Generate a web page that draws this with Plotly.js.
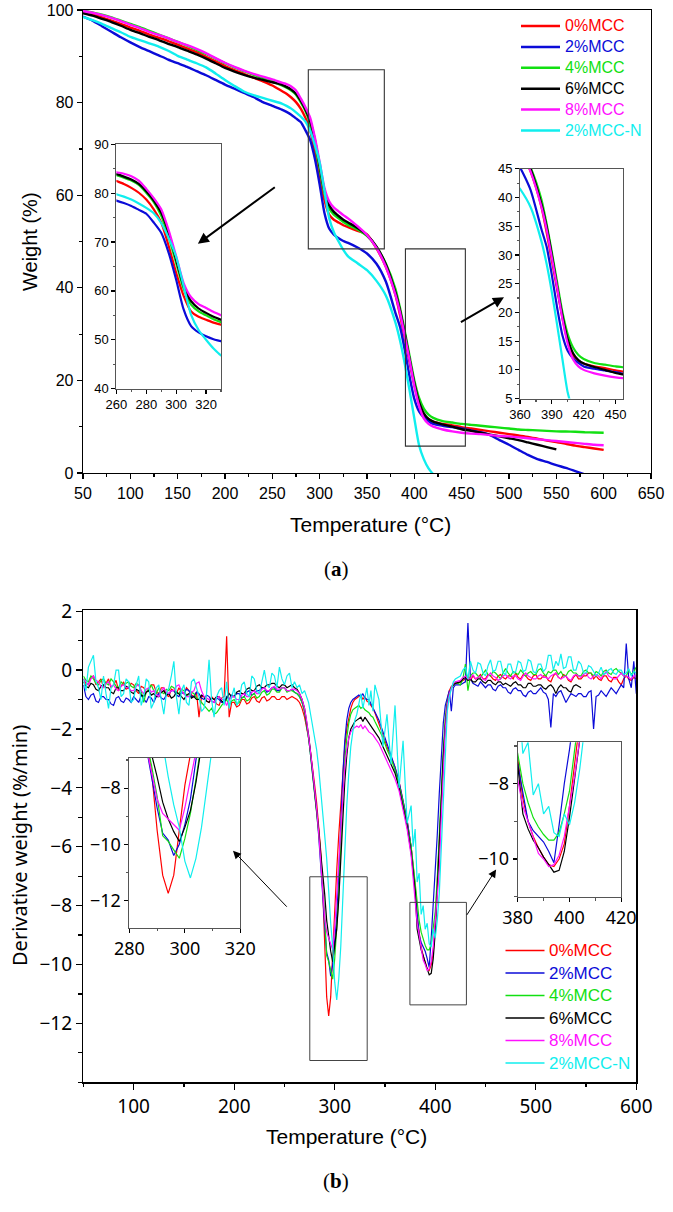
<!DOCTYPE html>
<html><head><meta charset="utf-8">
<script src="https://cdn.plot.ly/plotly-3.0.1.min.js"></script>
<style>html,body{margin:0;padding:0;background:#fff}</style>
</head><body><div id="chart" style="width:673px;height:1212px"></div>
<script>
// ---------- series meta ----------
const seriesNames = ['0%MCC','2%MCC','4%MCC','6%MCC','8%MCC','2%MCC-N'];
const seriesColors = ['#ff0000','#0b0bd8','#12e012','#000000','#ff10ff','#10eeee'];

// ---------- (a) TG data: temperature (°C) vs weight (%) ----------
const tgTemp = [50,60,70,80,90,100,110,120,130,140,150,160,170,180,190,200,210,220,230,240,250,
  260,265,270,275,280,285,290,295,300,305,310,315,320,325,330,
  340,350,360,370,380,
  385,390,395,400,405,410,415,420,
  430,440,450,460,470,480,490,500,510,520,530,540,550,560,570,580,590,600];
const tg0 = [99.5,99.0,98.4,97.7,97.0,96.2,95.5,94.7,94.0,93.3,92.5,91.7,90.9,89.9,88.9,87.9,87.0,86.2,85.4,84.6,83.7,
  82.5,81.9,81.1,80.1,78.7,76.7,74.0,69.2,63.7,59.0,55.8,54.7,54.1,53.5,53.1,
  52.3,51.5,48.5,44.5,38.5,
  34.0,29.0,24.0,19.0,15.0,12.6,11.6,11.1,
  10.6,10.3,9.9,9.6,9.3,9.0,8.7,8.4,8.1,7.8,7.4,7.0,6.7,6.3,5.9,5.6,5.3,5.0];
const tg2 = [98.6,97.7,96.5,95.3,94.1,93.0,92.0,91.1,90.2,89.3,88.5,87.7,86.8,85.9,84.9,83.9,83.0,82.1,81.2,80.1,79.3,
  78.5,78.0,77.4,76.6,75.8,74.0,71.9,67.8,62.3,56.2,52.8,51.5,50.7,50.1,49.7,
  48.7,47.4,45.2,41.3,34.6,
  31.5,26.5,20.8,16.0,13.3,12.0,11.2,10.6,
  10.2,9.9,9.6,9.2,8.8,8.2,7.1,6.1,5.0,3.9,3.0,2.4,1.7,1.1,0.4,-0.3,null,null];
const tg4 = [99.8,99.5,99.0,98.4,97.7,97.0,96.3,95.5,94.7,93.9,93.1,92.3,91.4,90.5,89.5,88.5,87.6,86.8,86.0,85.3,84.6,
  83.7,83.2,82.6,81.7,80.1,78.2,75.4,71.0,65.7,60.4,57.2,55.8,55.0,54.2,53.6,
  52.6,51.2,48.8,45.2,39.8,
  35.5,30.5,25.2,20.0,16.2,13.9,12.6,11.9,
  11.2,10.9,10.6,10.4,10.2,10.0,9.8,9.6,9.4,9.3,9.2,9.1,9.0,8.95,8.9,8.8,8.75,8.7];
const tg6 = [99.3,98.8,98.1,97.4,96.6,95.7,95.0,94.2,93.5,92.7,92.0,91.2,90.4,89.5,88.5,87.5,86.7,86.0,85.4,84.9,84.4,
  83.9,83.4,82.8,81.9,80.4,78.5,76.0,71.9,66.4,61.0,57.9,56.4,55.5,54.7,54.1,
  52.9,51.4,48.9,45.0,39.0,
  35.0,30.0,24.5,19.4,15.3,12.9,11.7,11.1,
  10.5,10.0,9.45,9.1,8.7,8.3,7.9,7.5,7.1,6.6,6.1,5.6,5.1,null,null,null,null,null];
const tg8 = [99.8,99.4,98.9,98.3,97.6,96.8,96.1,95.3,94.6,93.9,93.1,92.4,91.6,90.7,89.6,88.6,87.7,86.9,86.2,85.6,85.0,
  84.3,84.0,83.5,82.6,80.9,79.0,76.7,72.4,67.1,61.6,58.7,57.3,56.5,55.7,55.0,
  53.3,51.4,48.6,44.5,38.5,
  34.5,29.5,24.3,18.8,14.5,11.8,10.6,10.0,
  9.4,9.0,8.7,8.5,8.4,8.2,8.0,7.9,7.7,7.5,7.3,7.1,6.9,6.7,6.5,6.3,6.1,6.0];
const tg2N = [98.5,97.8,97.0,96.1,95.2,94.2,93.5,92.8,92.1,91.2,90.1,89.3,88.5,87.6,86.3,84.9,83.6,82.4,81.6,81.0,80.4,
  79.8,79.3,78.7,77.9,77.0,75.9,73.9,70.8,67.0,61.0,55.1,52.0,50.0,48.2,46.8,
  45.3,43.8,41.5,38.3,32.5,
  28.5,23.5,17.8,11.8,6.0,3.0,1.0,-0.3,
  null,null,null,null,null,null,null,null,null,null,null,null,null,null,null,null,null,null];

// ---------- (b) DTG data: temperature (°C) vs derivative weight (%/min) ----------
const dtgTemp = [
  50,52.5,55,57.5,60,62.5,65,67.5,70,72.5, 75,77.5,80,82.5,85,87.5,90,92.5,95,97.5,
  100,102.5,105,107.5,110,112.5,115,117.5,120,122.5, 125,127.5,130,132.5,135,137.5,140,142.5,145,147.5,
  150,152.5,155,157.5,160,162.5,165,167.5,170,172.5, 175,177.5,180,182.5,185,187.5,190,192.5,195,197.5,
  200,202.5,205,207.5,210,212.5,215,217.5,220,222.5, 225,227.5,230,232.5,235,237.5,240,242.5,245,247.5,
  250,252.5,255,257.5,260,262.5,265,267.5,270,
  272,274,276,278,280,282,284,286,288,290,292,294,296,298,300,302,304,306,308,310,
  312,314,316,318,320,322,324,326,328,330,332,334,336,338,340,
  344,348,352,356,360,364,368,372,376,
  378,380,382,384,386,388,390,392,394,396,398,400,402,404,406,408,410,412,414,416,418,420,
  425,427.5,430,432.5,435,437.5,440,442.5,445,447.5, 450,452.5,455,457.5,460,462.5,465,467.5,470,472.5,
  475,477.5,480,482.5,485,487.5,490,492.5,495,497.5, 500,502.5,505,507.5,510,512.5,515,517.5,520,522.5,
  525,527.5,530,532.5,535,537.5,540,542.5,545,547.5, 550,552.5,555,557.5,560,562.5,565,567.5,570,572.5,
  575,577.5,580,582.5,585,587.5,590,592.5,595,597.5, 600];

const dtg0 = [
  -0.3,-0.45,-0.5,-0.25,-0.2,-0.5,-0.4,-0.3,-0.6,-0.45, -0.3,-0.6,-0.5,-0.35,-0.7,-0.55,-0.4,-0.65,-0.6,-0.45,
  -0.5,-0.7,-0.8,-0.55,-0.6,-0.75,-0.7,-0.5,-0.5,-0.75, -0.8,-0.6,-0.6,-0.85,-0.9,-0.65,-0.7,-0.8,-0.6,-0.75,
  -0.8,-0.6,-0.7,-0.85,-0.9,-0.75,-1.6,-0.9,-0.9,-1.05, -1.1,-0.9,-1.0,-1.15,-1.2,-0.95,-0.9,1.15,-1.6,-1.1,
  -1.1,-1.25,-1.2,-1.0,-1.0,-1.15,-1.1,-0.95,-0.9,-1.05, -1.1,-0.95,-0.9,-1.05,-1.0,-0.9,-0.9,-1.0,-1.0,-0.9,
  -0.9,-1.0,-0.95,-0.9,-0.95,-1.0,-1.1,-1.3,-1.6,
  -1.9,-2.3,-2.8,-3.3,-3.9,-4.5,-5.2,-6.1,-7.4,-9.5,-11.1,-11.75,-11.1,-9.6,-7.9,-6.8,-5.6,-4.5,-3.5,-2.6,
  -2.0,-1.6,-1.3,-1.1,-1.0,-0.95,-0.9,-0.85,-1.0,-0.9,-1.05,-1.1,-1.2,-1.3,-1.45,
  -1.8,-2.2,-2.6,-2.95,-3.3,-3.8,-4.4,-5.1,-6.0,
  -6.6,-7.3,-8.4,-9.0,-9.4,-9.7,-9.95,-10.15,-10.2,-10.0,-9.6,-8.6,-7.2,-5.8,-4.2,-2.8,-1.7,-1.0,-0.7,-0.55,-0.5,-0.45,
  -0.4,-0.35,-0.3,-0.2,-0.35,-0.2,-0.3,-0.25,-0.15,-0.3, -0.3,-0.15,-0.2,-0.3,-0.35,-0.2,-0.15,-0.25,-0.3,-0.2,
  -0.2,-0.3,-0.1,-0.25,-0.3,-0.15,-0.2,-0.3,-0.35,-0.2, -0.15,-0.3,-0.3,-0.2,-0.2,-0.35,-0.4,-0.2,-0.1,-0.25,
  -0.3,-0.15,-0.2,-0.35,-0.4,-0.25,-0.15,-0.3,-0.3,-0.2, -0.2,-0.1,-0.1,-0.3,-0.2,-0.3,-0.35,-0.2,-0.2,-0.35,
  -0.4,-0.25,-0.25,-0.4,-0.5,-0.3,-0.2,-0.3,-0.35,-0.25, -0.3];
const dtg2 = [
  -0.5,-0.9,-1.0,-0.85,-0.8,-1.05,-1.1,-0.9,-0.9,-1.0, -1.0,-1.15,-1.2,-0.95,-0.9,-1.05,-1.1,-0.95,-1.0,-1.1,
  -0.9,-1.0,-1.1,-0.85,-1.0,-1.1,-0.9,-0.95,-1.1,-0.9, -0.8,-0.95,-1.0,-0.85,-0.8,-0.7,-0.7,-0.85,-0.9,-0.75,
  -0.8,-0.65,-0.7,-0.9,-0.9,-0.75,-0.8,-0.95,-1.0,-0.85, -0.9,-1.05,-1.1,-0.95,-1.0,-1.1,-1.1,-0.9,-1.0,-0.85,
  -0.9,-0.8,-0.8,-0.95,-0.9,-0.75,-0.7,-0.85,-0.8,-0.7, -0.7,-0.6,-0.6,-0.75,-0.7,-0.6,-0.6,-0.7,-0.7,-0.6,
  -0.6,-0.7,-0.7,-0.65,-0.75,-0.8,-0.9,-1.1,-1.4,
  -1.8,-2.3,-2.9,-3.5,-4.1,-4.8,-5.6,-6.5,-7.6,-8.7,-9.6,-9.85,-10.4,-10.0,-9.3,-8.4,-7.0,-5.2,-3.6,-2.4,
  -1.7,-1.3,-1.1,-1.0,-0.95,-0.9,-0.85,-0.9,-0.8,-0.95,-1.0,-1.0,-1.15,-1.25,-1.4,
  -1.7,-2.1,-2.5,-2.9,-3.3,-3.8,-4.4,-5.1,-6.0,
  -6.7,-7.5,-8.3,-9.0,-9.25,-9.4,-9.55,-9.8,-10.1,-9.1,-8.0,-7.1,-5.6,-4.2,-2.9,-1.8,-1.2,-0.9,-0.7,-1.4,-0.6,-0.5,
  -0.5,-0.45,-0.4,1.6,-0.3,-0.45,-0.5,-0.55,-0.4,-0.5, -0.6,-0.5,-0.5,-0.65,-0.7,-0.55,-0.5,-0.6,-0.6,-0.75,
  -0.8,-0.65,-0.6,-0.7,-0.7,-0.85,-0.9,-0.75,-0.7,-0.8, -0.8,-0.7,-0.6,-0.75,-0.8,-1.0,-1.95,-0.8,-0.9,-0.75,
  -0.7,-0.9,-1.1,-0.95,-0.8,-0.85,-0.9,-0.8,-0.8,-0.9, -0.9,-0.75,-0.7,-2.0,-0.9,-0.85,-0.7,-0.8,-0.9,-0.75,
  -0.6,-0.7,-0.8,-0.65,-0.5,-0.6,0.9,-0.3,-0.6,0.3, -0.8];
const dtg4 = [
  -0.2,-0.35,-0.4,-0.2,-0.3,-0.45,-0.5,-0.35,-0.3,-0.45, -0.5,-0.3,-0.4,-0.55,-0.6,-0.4,-0.5,-0.45,-0.4,-0.55,
  -0.6,-0.45,-0.5,-0.7,-1.1,-0.75,-0.6,-0.5,-0.7,-0.8, -0.6,-0.75,-0.8,-0.65,-0.7,-0.55,-0.6,-0.8,-0.8,-0.65,
  -0.7,-0.85,-0.9,-0.75,-0.8,-0.95,-1.0,-1.1,-1.2,-1.3, -1.4,-1.3,-1.5,-1.45,-1.3,-1.2,-1.1,-1.0,-1.2,-1.05,
  -1.0,-1.15,-1.1,-0.95,-0.9,-1.05,-1.0,-0.85,-0.8,-0.95, -0.9,-0.75,-0.7,-0.85,-0.8,-0.65,-0.65,-0.75,-0.75,-0.6,
  -0.6,-0.75,-0.7,-0.7,-0.75,-0.8,-0.9,-1.1,-1.4,
  -1.8,-2.3,-2.9,-3.5,-4.1,-4.8,-5.5,-6.3,-7.2,-8.3,-9.7,-9.9,-10.2,-10.5,-9.8,-8.9,-7.7,-6.0,-4.4,-3.1,
  -2.3,-1.8,-1.5,-1.35,-1.3,-1.25,-1.2,-1.3,-1.25,-1.35,-1.4,-1.45,-1.55,-1.6,-1.75,
  -2.0,-2.3,-2.7,-3.0,-3.4,-3.9,-4.5,-5.2,-6.0,
  -6.6,-7.2,-8.0,-8.5,-8.9,-9.15,-9.35,-9.5,-9.5,-9.3,-8.8,-8.2,-7.1,-5.6,-4.1,-2.7,-1.7,-1.1,-0.8,-0.6,-0.5,-0.4,
  -0.5,-0.3,0.2,-0.7,-0.2,-0.1,-0.1,-0.2,-0.25,-0.1, 0.0,-0.15,-0.2,-0.05,-0.1,-0.2,-0.3,-0.1,0.05,-0.1,
  -0.2,-0.05,-0.1,-0.15,0.0,-0.1,-0.2,-0.1,-0.05,-0.15, -0.15,0.0,0.05,-0.1,-0.2,-0.05,-0.1,0.0,0.0,-0.15,
  -0.05,-0.2,-0.2,-0.05,0.0,-0.1,-0.1,-0.2,-0.2,-0.05, 0.0,-0.1,-0.1,-0.2,-0.05,-0.1,-0.2,-0.05,0.0,-0.1,
  -0.15,0.0,0.05,-0.05,-0.1,-0.2,-0.2,0.0,-0.15,-0.05, 0.1];
const dtg6 = [
  -0.4,-0.55,-0.6,-0.45,-0.5,-0.65,-0.7,-0.55,-0.5,-0.6, -0.6,-0.75,-0.8,-0.6,-0.6,-0.7,-0.7,-0.55,-0.6,-0.75,
  -0.8,-0.65,-0.7,-0.85,-0.9,-0.75,-0.7,-0.85,-0.8,-0.9, -0.9,-0.75,-0.7,-0.85,-0.8,-0.95,-0.9,-0.75,-0.8,-0.9,
  -1.0,-0.85,-0.8,-0.95,-0.9,-1.0,-1.0,-0.85,-0.9,-1.05, -1.1,-0.95,-1.0,-0.9,-0.9,-1.05,-1.1,-0.95,-0.8,-0.9,
  -0.9,-0.75,-0.7,-0.8,-0.8,-0.65,-0.6,-0.7,-0.7,-0.55, -0.5,-0.6,-0.6,-0.5,-0.5,-0.45,-0.45,-0.55,-0.6,-0.5,
  -0.5,-0.6,-0.55,-0.5,-0.6,-0.65,-0.8,-1.0,-1.3,
  -1.7,-2.2,-2.8,-3.4,-4.0,-4.7,-5.4,-6.2,-6.8,-7.6,-8.5,-9.1,-9.55,-9.9,-9.4,-8.8,-7.8,-6.5,-5.0,-3.8,
  -2.9,-2.3,-2.0,-1.85,-1.75,-1.7,-1.65,-1.6,-1.75,-1.6,-1.7,-1.8,-1.9,-2.0,-2.1,
  -2.3,-2.6,-2.9,-3.2,-3.5,-4.0,-4.6,-5.3,-6.2,
  -6.8,-7.5,-8.8,-9.2,-9.5,-9.7,-9.95,-10.15,-10.35,-10.3,-9.8,-8.9,-7.5,-5.9,-4.3,-2.9,-1.9,-1.2,-0.8,-0.6,-0.5,-0.45,
  -0.4,-0.3,-0.25,-0.35,-0.3,-0.4,-0.4,-0.3,-0.3,-0.4, -0.45,-0.35,-0.35,-0.45,-0.5,-0.4,-0.4,-0.5,-0.45,-0.5,
  -0.55,-0.45,-0.4,-0.5,-0.5,-0.6,-0.6,-0.45,-0.45,-0.55, -0.55,-0.5,-0.5,-0.6,-0.65,-0.55,-0.5,-0.6,-0.8,-0.6,
  -0.5,-0.6,-0.6,-0.7,-0.75,-0.55,-0.5,-0.55,-0.6,null, null,null,null,null,null,null,null,null,null,null,
  null,null,null,null,null,null,null,null,null,null, null];
const dtg8 = [
  -0.3,-0.4,-0.5,-0.3,-0.2,-0.35,-0.4,-0.55,-0.6,-0.45, -0.4,-0.55,-0.5,-0.65,-0.7,-0.55,-0.5,-0.6,-0.6,-0.7,
  -0.7,-0.55,-0.5,-0.7,-0.8,-0.65,-0.6,-0.75,-0.7,-0.85, -0.9,-0.7,-0.6,-0.75,-0.8,-0.7,-0.7,-0.55,-0.5,-0.7,
  -0.8,-0.9,-0.9,-0.75,-0.7,-0.45,-0.4,-0.7,-0.9,-0.95, -1.0,-1.05,-1.1,-0.95,-0.9,-1.0,-1.0,-1.2,-1.0,-0.9,
  -0.9,-1.0,-1.0,-0.85,-0.8,-0.9,-0.9,-0.75,-0.7,-0.8, -0.8,-0.65,-0.6,-0.7,-0.7,-0.6,-0.55,-0.65,-0.65,-0.6,
  -0.6,-0.7,-0.7,-0.65,-0.65,-0.7,-0.8,-1.0,-1.3,
  -1.7,-2.2,-2.8,-3.4,-4.0,-4.7,-5.5,-6.5,-7.4,-8.4,-8.9,-9.1,-9.3,-9.5,-8.7,-7.6,-6.5,-5.4,-4.2,-3.3,
  -2.7,-2.3,-2.1,-2.0,-1.95,-1.9,-1.95,-1.85,-2.0,-1.9,-2.0,-2.1,-2.15,-2.2,-2.3,
  -2.5,-2.8,-3.1,-3.4,-3.7,-4.1,-4.7,-5.4,-6.3,
  -7.0,-7.9,-8.6,-9.0,-9.4,-9.85,-10.0,-10.2,-10.15,-9.9,-9.4,-8.6,-7.8,-6.8,-5.0,-3.3,-2.0,-1.2,-0.8,-0.6,-0.45,-0.4,
  -0.35,-0.25,-0.2,-0.3,-0.3,-0.15,-0.3,-0.25,-0.2,-0.3, -0.35,-0.2,-0.1,-0.2,-0.25,-0.35,-0.3,-0.2,-0.15,-0.25,
  -0.3,-0.2,-0.2,-0.3,-0.35,-0.2,-0.1,-0.2,-0.25,-0.3, -0.3,-0.2,-0.15,-0.25,-0.25,-0.3,-0.2,-0.15,-0.1,-0.25,
  -0.3,-0.25,-0.2,-0.3,-0.35,-0.2,-0.15,-0.2,-0.25,-0.15, -0.1,-0.25,-0.3,-0.2,-0.15,-0.2,-0.3,-0.15,-0.05,-0.2,
  -0.25,-0.3,-0.3,-0.2,-0.1,-0.2,-0.2,-0.25,-0.3,-0.2, -0.2];
const dtg2N = [
  -0.3,-0.7,0.1,0.3,0.5,-0.4,-0.6,-1.0,-0.2,-0.8, -1.3,-0.6,-0.5,0.0,0.0,-0.9,-0.8,-0.3,-0.4,-1.1,
  -1.0,-0.5,-0.2,-1.2,-0.9,-0.3,-0.4,-1.3,-1.1,-0.6, -0.5,-1.0,-1.5,-0.8,-0.6,-0.2,0.3,-0.9,-1.5,-0.7,
  -0.5,-1.1,-1.2,-0.4,-0.3,-0.6,-0.9,-1.4,-1.3,-0.8, 0.35,-1.0,-1.6,-0.9,-0.7,-0.6,-1.2,-0.4,-1.3,-0.9,
  -0.6,-1.2,-1.0,-0.5,-0.4,-0.8,-0.9,-0.2,-0.3,-0.7, -0.8,-0.4,0.0,-0.5,-0.6,-0.1,-0.2,-0.6,0.1,-0.3,
  -0.5,-0.2,-0.1,-0.6,-0.4,-0.6,-0.5,-0.8,-0.7,
  -0.9,-1.1,-1.5,-1.9,-2.2,-2.7,-3.3,-4.0,-4.8,-5.6,-6.4,-7.6,-8.6,-9.4,-10.6,-11.2,-10.5,-9.4,-7.6,-6.0,
  -4.6,-3.5,-2.6,-2.1,-1.7,-1.5,-1.2,-0.8,-1.3,-1.0,-0.6,-1.2,-0.7,-1.4,-0.5,
  -1.0,-2.6,-1.5,-3.2,-1.2,-4.0,-2.4,-5.2,-4.6,
  -6.0,-5.4,-7.2,-6.9,-8.3,-8.0,-8.8,-8.6,-9.3,-9.4,-8.8,-9.1,-8.5,-7.6,-6.0,-4.2,-2.5,-1.4,-0.9,-0.6,-0.4,-0.3,
  -0.2,0.0,0.1,-0.3,0.3,0.0,-0.1,0.25,0.2,-0.1, -0.2,0.15,0.35,-0.05,0.0,0.3,0.3,-0.1,-0.15,0.2,
  0.2,-0.1,-0.05,0.3,0.25,-0.05,0.0,0.35,0.3,-0.05, -0.1,0.2,0.2,-0.05,0.05,0.5,0.5,0.0,0.3,0.15,
  0.55,0.05,0.1,0.45,0.45,0.0,0.0,0.3,0.2,-0.1, -0.1,0.15,0.1,-0.05,-0.2,-0.1,0.1,-0.15,-0.1,0.0,
  0.05,-0.1,-0.15,0.0,0.0,-0.15,-0.1,0.05,-0.2,-0.05, -0.1];

const tgSeries = [tg0, tg2, tg4, tg6, tg8, tg2N];
const dtgSeries = [dtg0, dtg2, dtg4, dtg6, dtg8, dtg2N];

// ---------- layout helpers ----------
const W = 673, H = 1212;
const px = v => v / W;
const py = v => 1 - v / H;
const ARIAL = 'Liberation Sans, Arial, sans-serif';
const NOTO = 'Noto Sans, Open Sans, sans-serif';
const SERIF = 'Liberation Serif, Times New Roman, serif';

const traces = [];
function addSet(xArr, ys, xa, ya, width, shape) {
  ys.forEach((y, i) => traces.push({
    type: 'scatter', mode: 'lines', x: xArr, y: y, xaxis: xa, yaxis: ya,
    line: {color: seriesColors[i], width: width, shape: shape, smoothing: 0.6},
    name: seriesNames[i], showlegend: false, hoverinfo: 'skip'
  }));
}
addSet(tgTemp, tgSeries, 'x', 'y', 2.4, 'spline');
addSet(tgTemp, tgSeries, 'x2', 'y2', 2.2, 'spline');
addSet(tgTemp, tgSeries, 'x3', 'y3', 2.2, 'spline');
addSet(dtgTemp, dtgSeries, 'x4', 'y4', 1.2, 'linear');
addSet(dtgTemp, dtgSeries, 'x5', 'y5', 1.2, 'linear');
addSet(dtgTemp, dtgSeries, 'x6', 'y6', 1.2, 'linear');

function ax(o) {
  return Object.assign({
    showgrid: false, zeroline: false, showline: true, mirror: true,
    ticks: 'outside', linecolor: '#000', tickcolor: '#000', linewidth: 1.3,
    tickwidth: 1.2, ticklen: 5, fixedrange: true
  }, o);
}

const layout = {
  width: W, height: H, margin: {l: 0, r: 0, t: 0, b: 0},
  paper_bgcolor: '#fff', plot_bgcolor: 'rgba(0,0,0,0)', showlegend: false,
  // (a) main
  xaxis: ax({domain: [px(83), px(651)], range: [50, 650], anchor: 'y', tickmode: 'linear', tick0: 50, dtick: 50,
    tickfont: {family: ARIAL, size: 16, color: '#000'},
    minor: {ticks: 'outside', ticklen: 3, tick0: 50, dtick: 25, tickcolor: '#000'}}),
  yaxis: ax({domain: [py(473), py(10)], range: [0, 100], anchor: 'x', tickmode: 'linear', tick0: 0, dtick: 20,
    tickfont: {family: ARIAL, size: 16, color: '#000'},
    minor: {ticks: 'outside', ticklen: 3, tick0: 0, dtick: 10, tickcolor: '#000'}}),
  // (a) inset left
  xaxis2: ax({domain: [px(116.4), px(221)], range: [260, 330], anchor: 'y2', tickmode: 'linear', tick0: 260, dtick: 20,
    linecolor: '#555', linewidth: 1, ticklen: 4, tickfont: {family: ARIAL, size: 13, color: '#000'},
    minor: {ticks: 'outside', ticklen: 2.5, tick0: 260, dtick: 10, tickcolor: '#555'}}),
  yaxis2: ax({domain: [py(388.6), py(144.4)], range: [40, 90], anchor: 'x2', tickmode: 'linear', tick0: 40, dtick: 10,
    linecolor: '#555', linewidth: 1, ticklen: 4, tickfont: {family: ARIAL, size: 13, color: '#000'},
    minor: {ticks: 'outside', ticklen: 2.5, tick0: 40, dtick: 5, tickcolor: '#555'}}),
  // (a) inset right
  xaxis3: ax({domain: [px(520), px(623)], range: [360, 457], anchor: 'y3', tickmode: 'linear', tick0: 360, dtick: 30,
    linecolor: '#555', linewidth: 1, ticklen: 4, tickfont: {family: ARIAL, size: 13, color: '#000'},
    minor: {ticks: 'outside', ticklen: 2.5, tick0: 360, dtick: 15, tickcolor: '#555'}}),
  yaxis3: ax({domain: [py(398.6), py(168.8)], range: [5, 45], anchor: 'x3', tickmode: 'linear', tick0: 5, dtick: 5,
    linecolor: '#555', linewidth: 1, ticklen: 4, tickfont: {family: ARIAL, size: 13, color: '#000'},
    minor: {ticks: 'outside', ticklen: 2.5, tick0: 5, dtick: 2.5, tickcolor: '#555'}}),
  // (b) main
  xaxis4: ax({domain: [px(83.4), px(636.3)], range: [50, 600], anchor: 'y4', tickmode: 'linear', tick0: 0, dtick: 100,
    linewidth: 1.5, ticklen: 6, tickfont: {family: NOTO, size: 19, color: '#000'},
    minor: {ticks: 'outside', ticklen: 3.5, tick0: 0, dtick: 50, tickcolor: '#000'}}),
  yaxis4: ax({domain: [py(1082.3), py(610.3)], range: [-14, 2.03], anchor: 'x4', tickmode: 'array',
    tickvals: [-12, -10, -8, -6, -4, -2, 0, 2], linewidth: 1.5, ticklen: 6,
    tickfont: {family: NOTO, size: 19, color: '#000'},
    minor: {ticks: 'outside', ticklen: 3.5, tick0: 0, dtick: 1, tickcolor: '#000'}}),
  // (b) inset left
  xaxis5: ax({domain: [px(129.4), px(240.3)], range: [280, 320], anchor: 'y5', tickmode: 'linear', tick0: 280, dtick: 20,
    linecolor: '#555', linewidth: 1, ticklen: 4, tickfont: {family: NOTO, size: 18, color: '#000'},
    minor: {ticks: 'outside', ticklen: 2.5, tick0: 280, dtick: 10, tickcolor: '#555'}}),
  yaxis5: ax({domain: [py(927.9), py(757.8)], range: [-12.98, -6.92], anchor: 'x5', tickmode: 'array',
    tickvals: [-12, -10, -8], linecolor: '#555', linewidth: 1, ticklen: 4,
    tickfont: {family: NOTO, size: 18, color: '#000'},
    minor: {ticks: 'outside', ticklen: 2.5, tick0: 0, dtick: 1, tickcolor: '#555'}}),
  // (b) inset right
  xaxis6: ax({domain: [px(517.7), px(621.2)], range: [380, 420], anchor: 'y6', tickmode: 'linear', tick0: 380, dtick: 20,
    linecolor: '#555', linewidth: 1, ticklen: 4, tickfont: {family: NOTO, size: 18, color: '#000'},
    minor: {ticks: 'outside', ticklen: 2.5, tick0: 380, dtick: 10, tickcolor: '#555'}}),
  yaxis6: ax({domain: [py(897.4), py(742.3)], range: [-11.02, -6.9], anchor: 'x6', tickmode: 'array',
    tickvals: [-10, -8], linecolor: '#555', linewidth: 1, ticklen: 4,
    tickfont: {family: NOTO, size: 18, color: '#000'},
    minor: {ticks: 'outside', ticklen: 2.5, tick0: 0, dtick: 1, tickcolor: '#555'}}),
  shapes: [
    // zoom boxes (a)
    {type: 'rect', xref: 'x', yref: 'y', x0: 288, x1: 368.3, y0: 48.4, y1: 87.1, line: {color: '#333', width: 1.1}},
    {type: 'rect', xref: 'x', yref: 'y', x0: 390.6, x1: 453.9, y0: 5.8, y1: 48.4, line: {color: '#333', width: 1.1}},
    // zoom boxes (b)
    {type: 'rect', xref: 'x4', yref: 'y4', x0: 275.2, x1: 332.3, y0: -13.26, y1: -7.02, line: {color: '#444', width: 1}},
    {type: 'rect', xref: 'x4', yref: 'y4', x0: 374.8, x1: 431, y0: -11.37, y1: -7.89, line: {color: '#444', width: 1}}
  ],
  annotations: [
    // axis titles (a)
    {text: 'Weight (%)', xref: 'paper', yref: 'paper', x: px(30), y: py(242), textangle: -90, showarrow: false,
      font: {family: ARIAL, size: 20, color: '#000'}, xanchor: 'center', yanchor: 'middle'},
    {text: 'Temperature (°C)', xref: 'paper', yref: 'paper', x: px(370), y: py(525), showarrow: false,
      font: {family: ARIAL, size: 21, color: '#000'}, xanchor: 'center', yanchor: 'middle'},
    {text: '(<b>a</b>)', xref: 'paper', yref: 'paper', x: px(336), y: py(569), showarrow: false,
      font: {family: SERIF, size: 21, color: '#000'}, xanchor: 'center', yanchor: 'middle'},
    // axis titles (b)
    {text: 'Derivative weight (%/min)', xref: 'paper', yref: 'paper', x: px(19), y: py(846), textangle: -90, showarrow: false,
      font: {family: NOTO, size: 20, color: '#000'}, xanchor: 'center', yanchor: 'middle'},
    {text: 'Temperature (°C)', xref: 'paper', yref: 'paper', x: px(347), y: py(1136), showarrow: false,
      font: {family: ARIAL, size: 21, color: '#000'}, xanchor: 'center', yanchor: 'middle'},
    {text: '(<b>b</b>)', xref: 'paper', yref: 'paper', x: px(336), y: py(1181), showarrow: false,
      font: {family: SERIF, size: 21, color: '#000'}, xanchor: 'center', yanchor: 'middle'},
    // arrows
    {text: '', xref: 'paper', yref: 'paper', x: px(197.9), y: py(243.8), ax: 78.4, ay: -57.7, showarrow: true,
      arrowhead: 2, arrowsize: 1.1, arrowwidth: 2, arrowcolor: '#000', standoff: 0},
    {text: '', xref: 'paper', yref: 'paper', x: px(504), y: py(297.2), ax: -44.6, ay: 25.7, showarrow: true,
      arrowhead: 2, arrowsize: 1.1, arrowwidth: 2, arrowcolor: '#000', standoff: 0},
    {text: '', xref: 'paper', yref: 'paper', x: px(233), y: py(850.7), ax: 55.2, ay: 57.5, showarrow: true,
      arrowhead: 2, arrowsize: 1.6, arrowwidth: 1, arrowcolor: '#000', standoff: 0},
    {text: '', xref: 'paper', yref: 'paper', x: px(496.1), y: py(869.4), ax: -30.2, ay: 47, showarrow: true,
      arrowhead: 2, arrowsize: 1.6, arrowwidth: 1, arrowcolor: '#000', standoff: 0}
  ]
};

// manual legends (line + coloured label)
seriesNames.forEach((name, i) => {
  const ya = 26 + i * 20.9;
  layout.shapes.push({type: 'line', xref: 'paper', yref: 'paper', x0: px(521), x1: px(560), y0: py(ya), y1: py(ya),
    line: {color: seriesColors[i], width: 2.5}});
  layout.annotations.push({text: name, xref: 'paper', yref: 'paper', x: px(563), y: py(ya), showarrow: false,
    xanchor: 'left', yanchor: 'middle', font: {family: ARIAL, size: 16, color: seriesColors[i]}});
  const yb = 950.5 + i * 22.5;
  layout.shapes.push({type: 'line', xref: 'paper', yref: 'paper', x0: px(505.5), x1: px(544.5), y0: py(yb), y1: py(yb),
    line: {color: seriesColors[i], width: 1.3}});
  layout.annotations.push({text: name, xref: 'paper', yref: 'paper', x: px(547), y: py(yb), showarrow: false,
    xanchor: 'left', yanchor: 'middle', font: {family: ARIAL, size: 17, color: seriesColors[i]}});
});

Plotly.newPlot('chart', traces, layout, {displayModeBar: false, staticPlot: true});
</script></body></html>
